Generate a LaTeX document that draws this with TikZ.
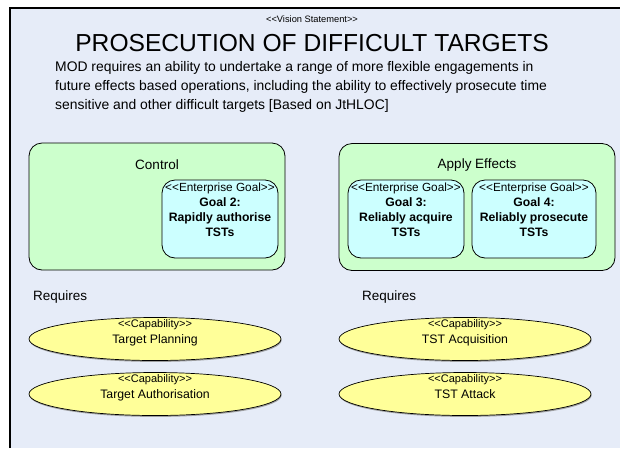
\documentclass[tikz,border=0pt]{standalone}
\usepackage{fontspec}
\setmainfont{Liberation Sans}
\usetikzlibrary{shapes.geometric, shadows}
\definecolor{visionbg}{HTML}{E6ECF8}
\definecolor{areagreen}{HTML}{CCFFCC}
\definecolor{goalcyan}{HTML}{CCFFFF}
\definecolor{capyellow}{HTML}{FFFF99}
\newcommand\stype[1]{<{}<#1>{}>}
\tikzset{ area/.style = { rectangle
                        , draw
                        , line width      = 0.8pt
                        , rounded corners = 13pt
                        , fill            = areagreen
                        , minimum height  = 127pt
                        , inner sep       = 0pt
                        },
          goal/.style = { rectangle
                        , draw
                        , line width      = 0.8pt
                        , rounded corners = 13pt
                        , fill            = goalcyan
                        , minimum height  = 78pt
                        , inner sep       = 0pt
                        },
          capab/.style = { ellipse
                        , draw
                        , line width      = 0.7pt
                        , fill            = capyellow
                        , minimum width   = 252pt
                        , minimum height  = 43pt
                        , inner sep       = 0pt
                        , drop shadow     = {shadow xshift=0.6pt, shadow yshift=-1.4pt, fill=black!45, opacity=0.8}
                        },
          atxt/.style = { anchor    = center
                        , yshift    = -22pt
                        , font      = \fontsize{13.5}{15}\selectfont
                        },
          gtxt/.style = { anchor    = north
                        , yshift    = -3pt
                        , inner sep = 0pt
                        , align     = center
                        , font      = \fontsize{12.2}{15.2}\selectfont
                        },
          ctxt/.style = { anchor    = north
                        , yshift    = -2.5pt
                        , inner sep = 0pt
                        , align     = center
                        , font      = \fontsize{12.3}{16}\selectfont
                        }
        }

\begin{document}
\begin{tikzpicture}[x=1pt, y=-1pt]
    \useasboundingbox (0,0) rectangle (620,448);
    % vision statement frame
    \fill[visionbg] (10,8) rectangle (620,448);
    \draw[line width=1.3pt] (10,448) -- (10,8) -- (620,8);

    \node[font=\fontsize{9.3}{10}\selectfont, inner sep=0pt] (stereo) at (312,19) {\stype{Vision Statement}};
    \node[font=\fontsize{24.6}{26}\selectfont, inner sep=0pt] (title) at (312,43) {PROSECUTION OF DIFFICULT TARGETS};
    \node[anchor=north west, align=left, inner sep=0pt, font=\fontsize{13.9}{19}\selectfont] (vision) at (55,61)
        {MOD requires an ability to undertake a range of more flexible engagements in\\
         future effects based operations, including the ability to effectively prosecute time\\
         sensitive and other difficult targets [Based on JtHLOC]};

    % areas and goals
    \node[area, minimum width=256pt, label={[atxt]north:Control}]
          (control) at (157,206.5) {};
    \node[area, minimum width=276pt, label={[atxt]north:Apply Effects}]
          (effects) at (477,207) {};

    \node[goal, minimum width=116pt,
          label={[gtxt]north:{{\fontsize{11.8}{13}\selectfont\stype{Enterprise Goal}}\\\textbf{Goal 2:}\\\textbf{Rapidly authorise}\\\textbf{TSTs}}}]
          (g2) at (220,219) {};
    \node[goal, minimum width=116pt,
          label={[gtxt]north:{{\fontsize{11.8}{13}\selectfont\stype{Enterprise Goal}}\\\textbf{Goal 3:}\\\textbf{Reliably acquire}\\\textbf{TSTs}}}]
          (g3) at (406,219) {};
    \node[goal, minimum width=124pt,
          label={[gtxt]north:{{\fontsize{11.8}{13}\selectfont\stype{Enterprise Goal}}\\\textbf{Goal 4:}\\\textbf{Reliably prosecute}\\\textbf{TSTs}}}]
          (g4) at (534,219) {};

    % required capabilities
    \node[anchor=west, inner sep=0pt, font=\fontsize{13.5}{15}\selectfont] (reqA) at (33,297) {Requires};
    \node[anchor=west, inner sep=0pt, font=\fontsize{13.5}{15}\selectfont] (reqB) at (362,297) {Requires};

    \node[capab, label={[ctxt]north:{{\fontsize{11}{12}\selectfont\stype{Capability}}\\Target Planning}}]
          (tplan) at (155,339) {};
    \node[capab, label={[ctxt]north:{{\fontsize{11}{12}\selectfont\stype{Capability}}\\Target Authorisation}}]
          (tauth) at (155,394) {};
    \node[capab, label={[ctxt]north:{{\fontsize{11}{12}\selectfont\stype{Capability}}\\TST Acquisition}}]
          (tacq) at (465,339) {};
    \node[capab, label={[ctxt]north:{{\fontsize{11}{12}\selectfont\stype{Capability}}\\TST Attack}}]
          (tatt) at (465,394) {};
\end{tikzpicture}
\end{document}
